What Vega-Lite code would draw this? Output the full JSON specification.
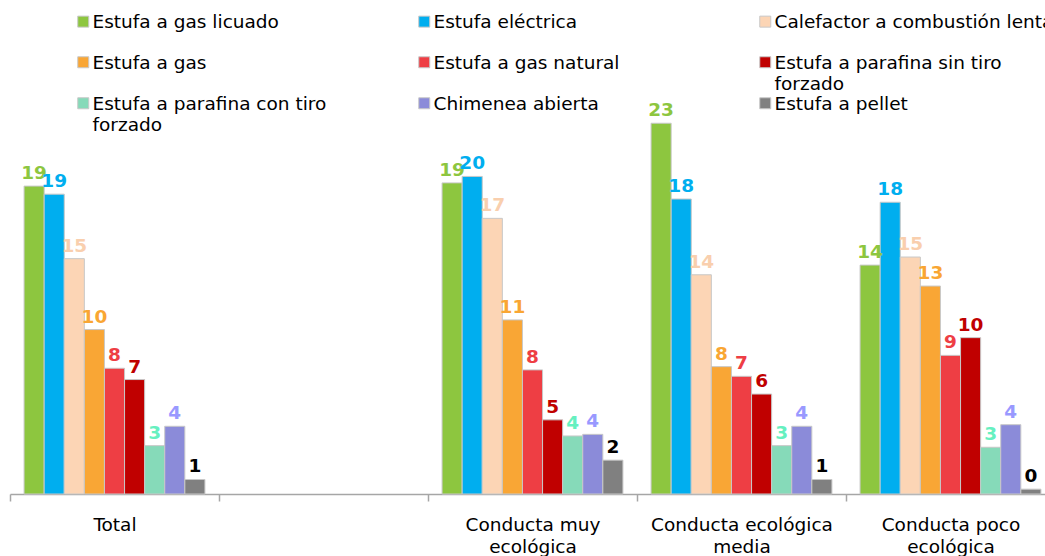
{
  "$schema": "https://vega.github.io/schema/vega-lite/v6.json",
  "width": 1045,
  "height": 403,
  "autosize": {"type": "none"},
  "padding": {"left": 10, "top": 91, "right": 0, "bottom": 62},
  "background": "white",
  "config": {"view": {"stroke": null}, "font": "DejaVu Sans"},
  "data": {
    "values": [
      {"g": "Total", "s": "Estufa a gas licuado", "v": 19.1},
      {"g": "Total", "s": "Estufa eléctrica", "v": 18.6},
      {"g": "Total", "s": "Calefactor a combustión lenta", "v": 14.6},
      {"g": "Total", "s": "Estufa a gas", "v": 10.2},
      {"g": "Total", "s": "Estufa a gas natural", "v": 7.8},
      {"g": "Total", "s": "Estufa a parafina sin tiro forzado", "v": 7.1},
      {"g": "Total", "s": "Estufa a parafina con tiro forzado", "v": 3.0},
      {"g": "Total", "s": "Chimenea abierta", "v": 4.2},
      {"g": "Total", "s": "Estufa a pellet", "v": 0.9},
      {"g": "Conducta muy ecológica", "s": "Estufa a gas licuado", "v": 19.3},
      {"g": "Conducta muy ecológica", "s": "Estufa eléctrica", "v": 19.7},
      {"g": "Conducta muy ecológica", "s": "Calefactor a combustión lenta", "v": 17.1},
      {"g": "Conducta muy ecológica", "s": "Estufa a gas", "v": 10.8},
      {"g": "Conducta muy ecológica", "s": "Estufa a gas natural", "v": 7.7},
      {"g": "Conducta muy ecológica", "s": "Estufa a parafina sin tiro forzado", "v": 4.6},
      {"g": "Conducta muy ecológica", "s": "Estufa a parafina con tiro forzado", "v": 3.6},
      {"g": "Conducta muy ecológica", "s": "Chimenea abierta", "v": 3.7},
      {"g": "Conducta muy ecológica", "s": "Estufa a pellet", "v": 2.1},
      {"g": "Conducta ecológica media", "s": "Estufa a gas licuado", "v": 23.0},
      {"g": "Conducta ecológica media", "s": "Estufa eléctrica", "v": 18.3},
      {"g": "Conducta ecológica media", "s": "Calefactor a combustión lenta", "v": 13.6},
      {"g": "Conducta ecológica media", "s": "Estufa a gas", "v": 7.9},
      {"g": "Conducta ecológica media", "s": "Estufa a gas natural", "v": 7.3},
      {"g": "Conducta ecológica media", "s": "Estufa a parafina sin tiro forzado", "v": 6.2},
      {"g": "Conducta ecológica media", "s": "Estufa a parafina con tiro forzado", "v": 3.0},
      {"g": "Conducta ecológica media", "s": "Chimenea abierta", "v": 4.2},
      {"g": "Conducta ecológica media", "s": "Estufa a pellet", "v": 0.9},
      {"g": "Conducta poco ecológica", "s": "Estufa a gas licuado", "v": 14.2},
      {"g": "Conducta poco ecológica", "s": "Estufa eléctrica", "v": 18.1},
      {"g": "Conducta poco ecológica", "s": "Calefactor a combustión lenta", "v": 14.7},
      {"g": "Conducta poco ecológica", "s": "Estufa a gas", "v": 12.9},
      {"g": "Conducta poco ecológica", "s": "Estufa a gas natural", "v": 8.6},
      {"g": "Conducta poco ecológica", "s": "Estufa a parafina sin tiro forzado", "v": 9.7},
      {"g": "Conducta poco ecológica", "s": "Estufa a parafina con tiro forzado", "v": 2.9},
      {"g": "Conducta poco ecológica", "s": "Chimenea abierta", "v": 4.3},
      {"g": "Conducta poco ecológica", "s": "Estufa a pellet", "v": 0.3}
    ]
  },
  "encoding": {
    "x": {
      "field": "g",
      "type": "nominal",
      "title": null,
      "scale": {
        "domain": ["Total", " ", "Conducta muy ecológica", "Conducta ecológica media", "Conducta poco ecológica"],
        "paddingInner": 0,
        "paddingOuter": 0
      },
      "axis": {
        "labelAngle": 0,
        "domainColor": "#a6a6a6",
        "domainWidth": 1.5,
        "tickColor": "#a6a6a6",
        "tickWidth": 1.5,
        "tickSize": 7,
        "tickBand": "extent",
        "labelFont": "DejaVu Sans",
        "labelFontSize": 18.5,
        "labelColor": "#000000",
        "labelBaseline": "top",
        "labelPadding": 14,
        "labelLineHeight": 22,
        "labelLimit": 400,
        "labelExpr": "datum.value == 'Conducta muy ecológica' ? ['Conducta muy', 'ecológica'] : datum.value == 'Conducta ecológica media' ? ['Conducta ecológica', 'media'] : datum.value == 'Conducta poco ecológica' ? ['Conducta poco', 'ecológica'] : datum.value == ' ' ? '' : datum.label"
      }
    },
    "xOffset": {
      "field": "s",
      "type": "nominal",
      "scale": {
        "domain": ["Estufa a gas licuado", "Estufa eléctrica", "Calefactor a combustión lenta", "Estufa a gas", "Estufa a gas natural", "Estufa a parafina sin tiro forzado", "Estufa a parafina con tiro forzado", "Chimenea abierta", "Estufa a pellet"],
        "paddingInner": 0,
        "paddingOuter": 0.7
      }
    },
    "y": {"field": "v", "type": "quantitative", "scale": {"domain": [0, 25]}, "axis": null}
  },
  "layer": [
    {
      "mark": {"type": "bar", "stroke": "#c8c8c8", "strokeWidth": 1},
      "encoding": {
        "color": {
          "field": "s",
          "type": "nominal",
          "scale": {
            "domain": ["Estufa a gas licuado", "Estufa eléctrica", "Calefactor a combustión lenta", "Estufa a gas", "Estufa a gas natural", "Estufa a parafina sin tiro forzado", "Estufa a parafina con tiro forzado", "Chimenea abierta", "Estufa a pellet"],
            "range": ["#8dc63f", "#00aeef", "#fcd5b5", "#f9a635", "#ee3e44", "#c00000", "#86dab9", "#8b8bd9", "#808080"]
          },
          "legend": {
            "orient": "none",
            "legendX": 64,
            "legendY": -79,
            "direction": "horizontal",
            "columns": 3,
            "title": null,
            "padding": 0,
            "gridAlign": "all",
            "columnPadding": 43,
            "rowPadding": 0,
            "symbolType": "square",
            "symbolSize": 121,
            "symbolStrokeColor": "#c8c8c8",
            "symbolStrokeWidth": 1,
            "labelFont": "DejaVu Sans",
            "labelFontSize": 18.5,
            "labelColor": "#000000",
            "labelLimit": 400,
            "labelOffset": 0,
            "labelBaseline": "alphabetic",
            "labelExpr": "datum.label == 'Estufa a parafina sin tiro forzado' ? ['Estufa a parafina sin tiro', 'forzado'] : datum.label == 'Estufa a parafina con tiro forzado' ? ['Estufa a parafina con tiro', 'forzado'] : [datum.label, '']",
            "encode": {
              "labels": {"update": {"dy": {"value": 6.5}, "lineHeight": {"value": 21}}}
            }
          }
        }
      }
    },
    {
      "mark": {"type": "text", "baseline": "bottom", "dy": -3, "fontWeight": "bold", "fontSize": 18.5, "font": "DejaVu Sans"},
      "encoding": {
        "text": {"field": "v", "type": "quantitative", "format": ".0f"},
        "color": {
          "field": "s",
          "type": "nominal",
          "scale": {
            "domain": ["Estufa a gas licuado", "Estufa eléctrica", "Calefactor a combustión lenta", "Estufa a gas", "Estufa a gas natural", "Estufa a parafina sin tiro forzado", "Estufa a parafina con tiro forzado", "Chimenea abierta", "Estufa a pellet"],
            "range": ["#8dc63f", "#00aeef", "#f9cfae", "#f9a633", "#ee3e44", "#c00000", "#66f0c0", "#9999ff", "#000000"]
          },
          "legend": null
        }
      }
    }
  ],
  "resolve": {"scale": {"color": "independent"}}
}
